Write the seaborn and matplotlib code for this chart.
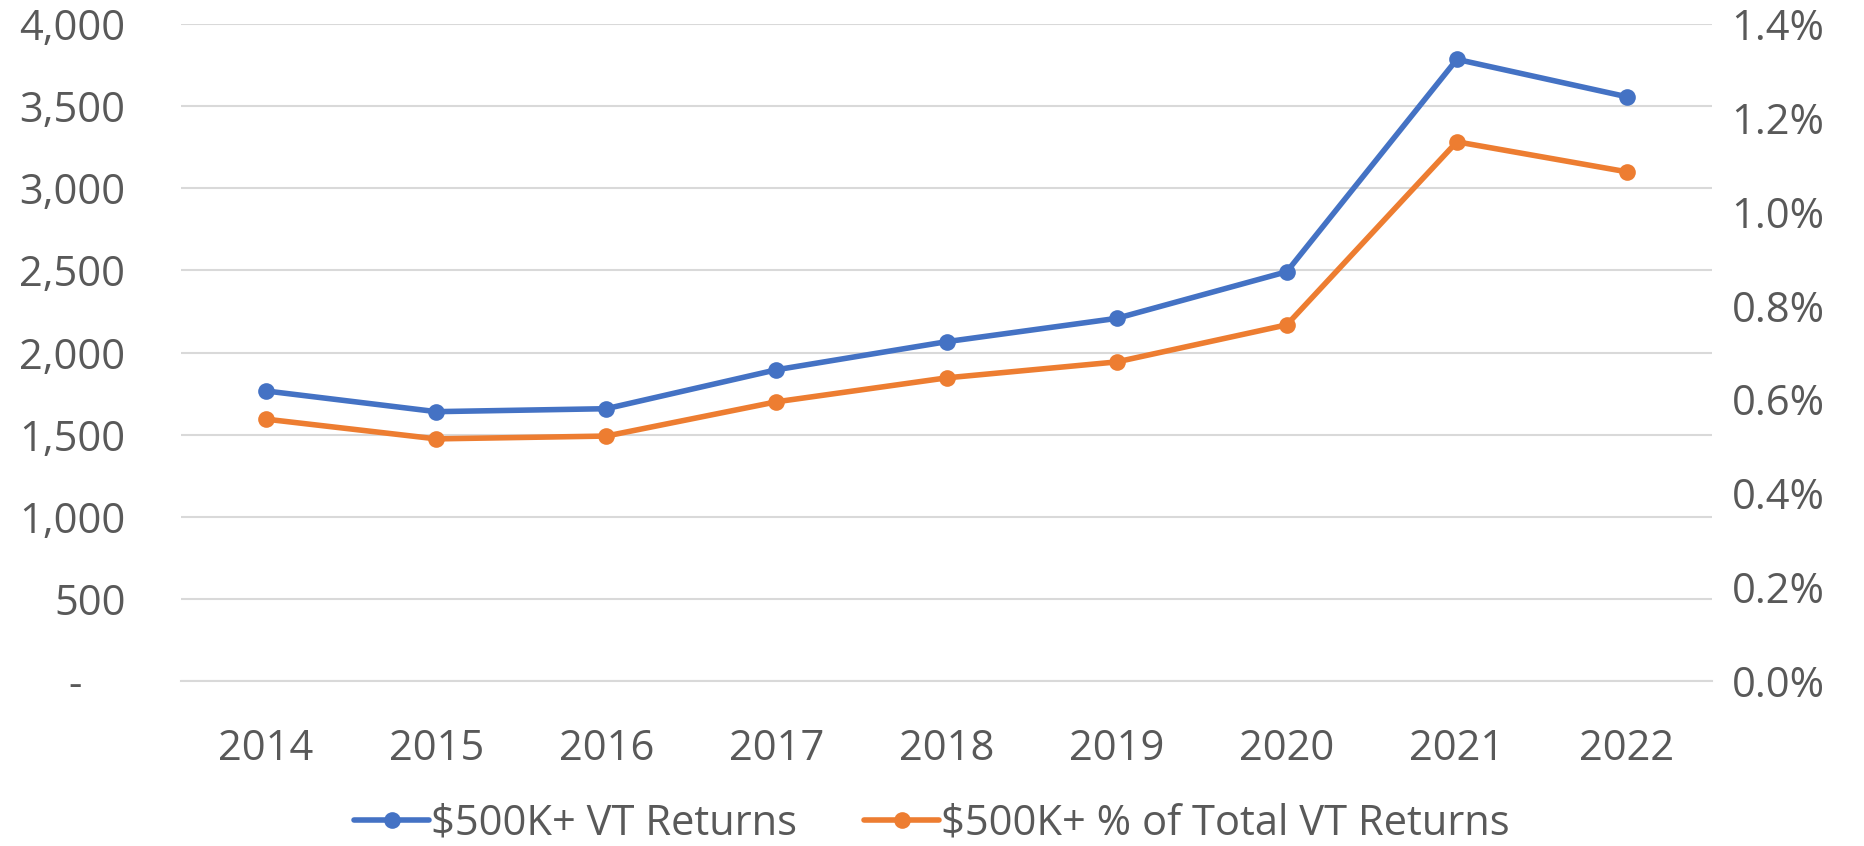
import matplotlib
matplotlib.use("Agg")
import matplotlib.pyplot as plt
from matplotlib.ticker import FuncFormatter
import seaborn as sns
import pandas as pd

# Data
years = ["2014", "2015", "2016", "2017", "2018", "2019", "2020", "2021", "2022"]
returns_500k = [1766, 1640, 1658, 1895, 2066, 2208, 2492, 3785, 3557]
pct_of_total = [0.558, 0.516, 0.522, 0.595, 0.646, 0.680, 0.759, 1.149, 1.085]

blue = "#4472C4"
orange = "#ED7D31"
grey = "#595959"

sns.set_theme(style="white")
plt.rcParams["font.family"] = ["Open Sans", "DejaVu Sans"]

df = pd.DataFrame({"year": years, "returns": returns_500k, "pct": pct_of_total})

fig = plt.figure(figsize=(18.64, 8.46), dpi=100)
ax = fig.add_axes([0.0971, 0.195, 0.8214, 0.7766])
ax2 = ax.twinx()

sns.lineplot(data=df, x="year", y="returns", ax=ax, color=blue, linewidth=4,
             marker="o", markersize=12, markeredgewidth=0, label="$500K+ VT Returns",
             legend=False)
sns.lineplot(data=df, x="year", y="pct", ax=ax2, color=orange, linewidth=4,
             marker="o", markersize=12, markeredgewidth=0,
             label="$500K+ % of Total VT Returns", legend=False)

ax.set_xlim(-0.5, len(years) - 0.5)
ax.set_ylim(0, 4000)
ax.set_yticks(range(0, 4001, 500))
ax.yaxis.set_major_formatter(FuncFormatter(lambda v, p: "-    " if v == 0 else f"{v:,.0f}"))
ax2.set_ylim(0, 1.4)
ax2.set_yticks([0, 0.2, 0.4, 0.6, 0.8, 1.0, 1.2, 1.4])
ax2.yaxis.set_major_formatter(FuncFormatter(lambda v, p: f"{v:.1f}%"))

ax.grid(axis="y", color="#d9d9d9", linewidth=1.5)
ax.set_axisbelow(True)
for a in (ax, ax2):
    for s in a.spines.values():
        s.set_visible(False)
    a.set_xlabel("")
    a.set_ylabel("")
    a.tick_params(length=0, labelsize=30, colors=grey)
ax.tick_params(axis="y", pad=40)
ax.tick_params(axis="x", pad=34)
ax2.tick_params(axis="y", pad=14)
ax.spines["bottom"].set_visible(True)
ax.spines["bottom"].set_color("#d9d9d9")
ax.spines["bottom"].set_linewidth(1.5)

handles = ax.get_lines()[:1] + ax2.get_lines()[:1]
labels = ["$500K+ VT Returns", "$500K+ % of Total VT Returns"]
leg = fig.legend(handles, labels, loc="center", bbox_to_anchor=(0.5, 0.027), ncol=2,
                 frameon=False, fontsize=30, handlelength=1.8, handletextpad=0.05,
                 columnspacing=1.6, labelcolor=grey)

fig.savefig("out.png", dpi=100)
